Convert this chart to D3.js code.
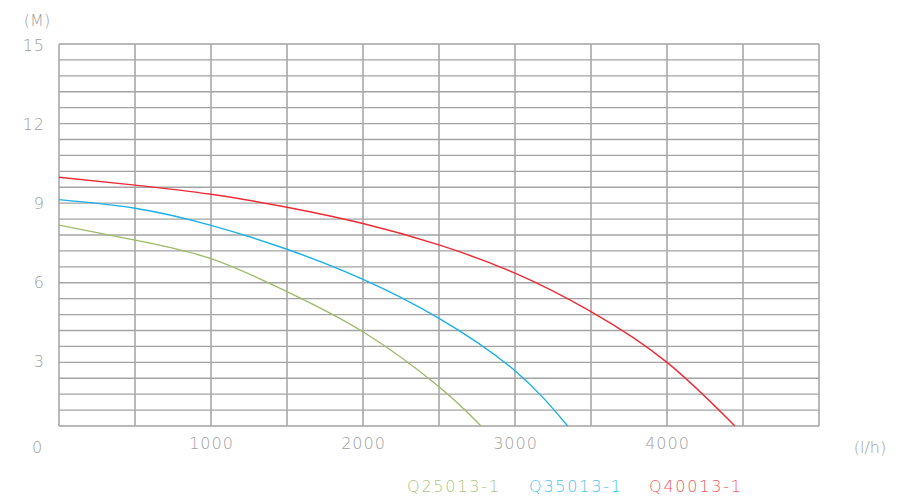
<!DOCTYPE html>
<html>
<head>
<meta charset="utf-8">
<script src="https://cdn.jsdelivr.net/npm/d3@7"></script>
<style>
  html, body { margin: 0; padding: 0; background: #fff; }
  svg text { font-family: "DejaVu Sans", sans-serif; font-weight: 200; }
</style>
</head>
<body>
<svg id="chart" width="900" height="500"></svg>
<script>
// ---- data ----
const flowQ25 = [0, 500, 1000, 1500, 2000, 2500, 2776];
const headQ25 = [7.89, 7.30, 6.57, 5.28, 3.70, 1.54, 0];
const flowQ35 = [0, 500, 1000, 1500, 2000, 2500, 3000, 3347];
const headQ35 = [8.89, 8.55, 7.88, 6.94, 5.76, 4.23, 2.17, 0];
const flowQ40 = [0, 500, 1000, 1500, 2000, 2500, 3000, 3500, 4000, 4447];
const headQ40 = [9.77, 9.46, 9.10, 8.59, 7.95, 7.11, 6.00, 4.49, 2.50, 0];
const seriesNames = ["Q25013-1", "Q35013-1", "Q40013-1"];
const yTickLabels = [3, 6, 9, 12, 15];
const xTickLabels = [1000, 2000, 3000, 4000];
const yUnit = "(M)";
const xUnit = "(l/h)";

const lineColors = ["#9dbb6b", "#1ab0ec", "#ec2b35"];
const legendColors = ["#a9c57f", "#4fc3f0", "#f25a5a"];
const labelColor = "#a0a0a0";

const svg = d3.select("#chart");
const x = d3.scaleLinear().domain([0, 5000]).range([59, 819]);
const y = d3.scaleLinear().domain([0, 15]).range([426, 44]);
const yLabel = d3.scaleLinear().domain([0, 15]).range([440, 45]);

// grid
const g = svg.append("g");
g.selectAll("line.h").data(d3.range(0, 15.0001, 0.625)).join("line")
  .attr("x1", x(0)).attr("x2", x(5000))
  .attr("y1", d => y(d)).attr("y2", d => y(d))
  .attr("stroke", "#a3a3a3").attr("stroke-width", 1.3);
g.selectAll("line.v").data(d3.range(0, 5001, 500)).join("line")
  .attr("y1", y(0)).attr("y2", y(15))
  .attr("x1", d => x(d)).attr("x2", d => x(d))
  .attr("stroke", "#a8a8a8").attr("stroke-width", 1.6);

// curves
const series = [
  flowQ25.map((f, i) => [f, headQ25[i]]),
  flowQ35.map((f, i) => [f, headQ35[i]]),
  flowQ40.map((f, i) => [f, headQ40[i]])
];
const line = d3.line().x(d => x(d[0])).y(d => y(d[1])).curve(d3.curveNatural);
svg.selectAll("path.curve").data(series).join("path")
  .attr("class", "curve")
  .attr("d", line)
  .attr("fill", "none")
  .attr("stroke", (d, i) => lineColors[i])
  .attr("stroke-width", 1.4);

// axes labels
const axisY = d3.axisLeft(yLabel).tickValues(yTickLabels).tickSize(0).tickPadding(0).tickFormat(d3.format("d"));
const ay = svg.append("g").attr("transform", "translate(45,0)").call(axisY);
ay.select(".domain").remove();
ay.selectAll("text").attr("fill", labelColor).style("font-size", "16px").style("letter-spacing", "1px");

const axisX = d3.axisBottom(x).tickValues(xTickLabels).tickSize(0).tickPadding(0).tickFormat(d3.format("d"));
const ax = svg.append("g").attr("transform", "translate(0,438)").call(axisX);
ax.select(".domain").remove();
ax.selectAll("text").attr("fill", labelColor).style("font-size", "16px").style("letter-spacing", "1px");

svg.append("text").attr("x", 37).attr("y", 453).attr("text-anchor", "middle")
  .attr("fill", labelColor).style("font-size", "16px").text("0");
svg.append("text").attr("x", 37).attr("y", 26).attr("text-anchor", "middle")
  .attr("fill", labelColor).style("font-size", "16px").text(yUnit);
svg.append("text").attr("x", 870).attr("y", 453).attr("text-anchor", "middle")
  .attr("fill", labelColor).style("font-size", "16px").text(xUnit);

// legend
const legendX = [407, 529, 649];
svg.selectAll("text.legend").data(seriesNames).join("text")
  .attr("class", "legend")
  .attr("x", (d, i) => legendX[i]).attr("y", 492)
  .attr("fill", (d, i) => legendColors[i])
  .style("font-size", "16px")
  .style("letter-spacing", "1.8px")
  .text(d => d);
</script>
</body>
</html>
